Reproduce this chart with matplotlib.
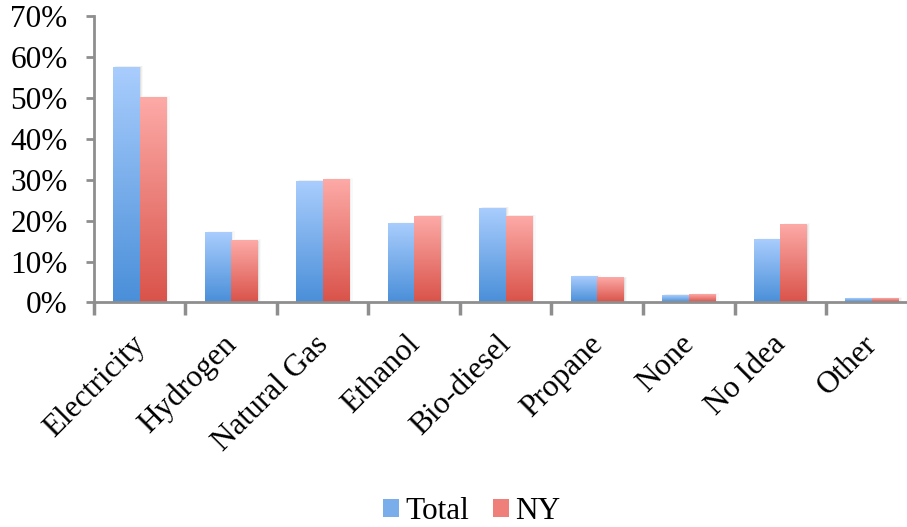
import numpy as np
import matplotlib
matplotlib.use("Agg")
import matplotlib.pyplot as plt
from matplotlib.colors import LinearSegmentedColormap
from matplotlib.patches import Rectangle
from matplotlib.ticker import FuncFormatter, FixedLocator

categories = ["Electricity", "Hydrogen", "Natural Gas", "Ethanol", "Bio-diesel",
              "Propane", "None", "No Idea", "Other"]
total = [57.5, 17.0, 29.6, 19.2, 23.0, 6.2, 1.7, 15.3, 0.9]
ny = [50.0, 15.0, 30.0, 21.0, 21.0, 5.9, 1.9, 18.9, 0.9]
series_names = ["Total", "NY"]
y_ticks = [0, 10, 20, 30, 40, 50, 60, 70]

plt.rcParams["font.family"] = ["Liberation Serif", "DejaVu Serif"]
FS = 22.5

blue_map = LinearSegmentedColormap.from_list("blue_grad", ["#4a8fd9", "#a9cdfd"])
red_map = LinearSegmentedColormap.from_list("red_grad", ["#d9534a", "#fdaaa7"])

fig = plt.figure(figsize=(9.07, 5.27), dpi=100)
ax = fig.add_axes([0.1036, 0.426, 1.0 - 0.1036, 0.5427])

bar_w = 0.29
grad = np.linspace(0, 1, 256).reshape(-1, 1)


def gradient_bar(x0, h, cmap):
    # soft drop shadow to the right of the bar
    for i, a in enumerate([0.10, 0.06, 0.03]):
        ax.add_patch(Rectangle((x0 + 0.012 * (i + 1), 0), bar_w, h + 0.15 * (i + 1),
                               facecolor="#555555", edgecolor="none", alpha=a, zorder=1))
    ax.imshow(grad, cmap=cmap, origin="lower", aspect="auto",
              extent=(x0, x0 + bar_w, 0, h), zorder=2, interpolation="bicubic")


xs = np.arange(len(categories))
for i, (t, n) in enumerate(zip(total, ny)):
    gradient_bar(xs[i] - bar_w, t, blue_map)
    gradient_bar(xs[i], n, red_map)

ax.set_xlim(-0.5, 8.385)
ax.set_ylim(0, 70)

axis_gray = "#8e8e8e"
for side in ["top", "right"]:
    ax.spines[side].set_visible(False)
for side in ["left", "bottom"]:
    ax.spines[side].set_color(axis_gray)
    ax.spines[side].set_linewidth(2.0)

ax.set_yticks(y_ticks)
ax.yaxis.set_major_formatter(FuncFormatter(lambda v, p: f"{int(v)}%"))
ax.tick_params(axis="y", direction="out", length=6, width=2, color=axis_gray,
               labelsize=FS, pad=13)

ax.set_xticks(xs)
ax.set_xticklabels([])
ax.tick_params(axis="x", which="major", length=0)
ax.xaxis.set_minor_locator(FixedLocator(np.arange(-0.5, 9.0, 1.0)))
ax.tick_params(axis="x", which="minor", direction="out", length=9, width=2.5,
               color=axis_gray)

for x, lab in zip(xs, categories):
    ax.text(x - 0.1, -6.7, lab, rotation=45, ha="right", va="top",
            rotation_mode="anchor", fontsize=FS, transform=ax.transData,
            clip_on=False)

# legend
handles = [Rectangle((0, 0), 1, 1, facecolor="#7aaeea", edgecolor="none"),
           Rectangle((0, 0), 1, 1, facecolor="#ee7f79", edgecolor="none")]
fig.legend(handles, series_names, loc="center", bbox_to_anchor=(0.52, 0.03),
           ncol=2, frameon=False, fontsize=FS, handlelength=0.52,
           handleheight=0.52, handletextpad=0.2, columnspacing=0.75,
           borderpad=0.2)

fig.savefig("out.png", dpi=100)
